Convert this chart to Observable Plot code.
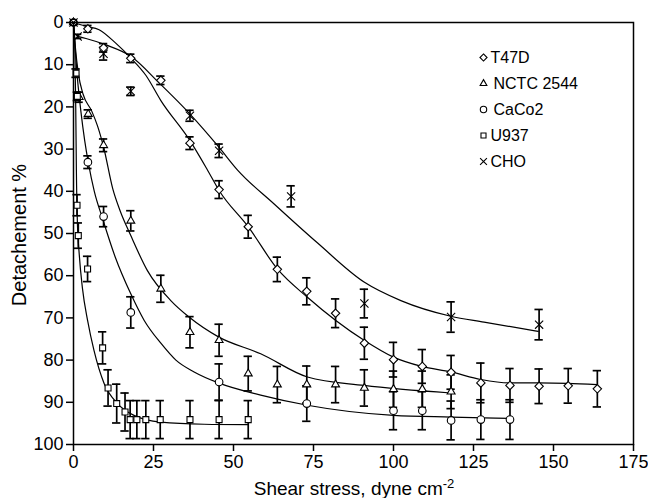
<!DOCTYPE html>
<html><head><meta charset="utf-8">
<script src="https://cdn.jsdelivr.net/npm/d3@7"></script>
<script src="https://cdn.jsdelivr.net/npm/@observablehq/plot@0.6"></script>
<style>body{margin:0;background:#fff;} #chart{width:648px;height:498px;}</style>
</head><body><div id="chart"></div>
<script>
// ---- Data (x: shear stress, y: detachment %, e: error bar half-length) ----
const xTicks = [0, 25, 50, 75, 100, 125, 150, 175];
const yTicks = [0, 10, 20, 30, 40, 50, 60, 70, 80, 90, 100];
const seriesNames = ["T47D", "NCTC 2544", "CaCo2", "U937", "CHO"];

const t47dPts = [[0,0,0],[4.5,1.5,0.8],[9.4,6.0,1],[17.9,8.5,1],[27.3,13.7,1],[36.4,28.6,1.5],[45.5,39.6,2.1],[54.6,48.4,2.7],[63.7,58.5,2.9],[72.9,63.7,3.2],[81.9,68.9,3.4],[90.9,76,3.8],[100,79.9,4.1],[109,81.5,4],[118,82.9,4],[127.3,85.4,4.7],[136.4,86,4],[145.5,86.2,4.1],[154.6,86.1,4.1],[163.7,86.8,4.3]];
const nctcPts = [[0,0,0],[1.75,17.7,1.2],[4.6,21.7,1],[9.4,29.1,1.5],[17.9,47.0,2.4],[27.3,63.1,3.2],[36.4,73.4,3.7],[45.5,75.3,3.8],[54.6,83.2,4.1],[63.7,85.8,4.3],[72.9,85.8,4.4],[81.9,85.8,4.3],[90.9,86.6,4.3],[100,86.9,4.3],[109,86.9,4.3],[118,87.5,4]];
const caco2Pts = [[0,0,0],[4.5,33.1,1.5],[9.4,46.0,2.4],[17.9,68.7,3.7],[45.5,85.2,4.3],[72.9,90.3,4.2],[100,92.0,4.5],[109,92.0,4.5],[118,94.3,4.6],[127.3,94.1,4.7],[136.4,94.1,4.7]];
const u937Pts = [[0,0,0],[0.8,12,1],[1.2,17.5,1],[1.1,43.3,2.5],[1.5,50.5,3],[4.4,58.4,3],[9.1,77.1,3.8],[10.8,86.6,4.3],[13.5,90.3,4.6],[16.1,92.3,4.5],[17.7,94.1,4.5],[19.8,94.1,4.5],[22.6,94.1,4.5],[27.1,94.1,4.5],[36.4,94.1,4.5],[45.5,94.1,4.5],[54.6,94.1,4.5]];
const choPts = [[0,0,0],[1.3,3.3,0.5],[9.4,7.4,1.5],[17.9,16.3,1],[36.4,22.1,1.3],[45.5,30.4,1.6],[68,41.2,2.5],[90.9,66.6,3.4],[118,69.8,3.6],[145.5,71.6,3.6]];

// fitted curves
const t47dFit = [[0,0],[3.9,0.9],[8,1.7],[13.2,4.9],[17.9,8.4],[22.6,12.5],[27.3,18.5],[36.4,28],[41.9,35],[45.5,39.8],[54.7,48.5],[63.7,58.4],[73.1,65.1],[90.8,75.3],[100,79.3],[108.8,81.5],[117.9,82.8],[127.3,84.6],[136.1,85.4],[145.2,85.4],[154.4,85.5],[163.7,85.8]];
const nctcFit = [[0,0],[0.6,6],[1.5,12],[3,17],[5.7,21],[7.5,24.5],[9.4,29.5],[12.3,39.5],[14.5,44.5],[17.9,50.5],[23.1,58.8],[30.4,65.9],[36.1,69.8],[45.3,74.5],[58.5,78.5],[73.1,84],[90.8,86],[117.9,87.8]];
const caco2Fit = [[0,0],[0.5,6],[1.2,13],[2.3,21],[3.5,28],[4.7,33.5],[6.5,40],[9.1,46.5],[13,55.5],[17.9,64.3],[22.1,70.6],[27.3,76.0],[32,80],[37.7,82.8],[45.3,85.4],[58.5,88.3],[73.1,90.7],[100,93.1],[118,93.5],[136.1,93.8]];
const u937Fit = [[0,0],[0.4,5],[0.7,20],[0.9,35],[1.2,47],[1.8,55],[2.8,63],[4.4,70.6],[6.4,77.7],[9.6,85.6],[13.75,90.3],[18.9,93.1],[27.3,94.7],[40.8,95.2],[54.6,95.3]];
const choFit = [[1.3,3.3],[3.9,3.8],[10.1,5.3],[17.9,8.0],[27,14.5],[36.4,21.7],[45.5,29.6],[51.2,34.9],[62.7,43.0],[76.2,52.2],[90.8,61.5],[102.3,65.9],[117.9,69.6],[128.3,71],[145.2,73.2]];

const symbols = ["diamond2", "triangle2", "circle", "square2", "times"];
const allPts = [t47dPts, nctcPts, caco2Pts, u937Pts, choPts];
const allFits = [t47dFit, nctcFit, caco2Fit, u937Fit, choFit];

const series = seriesNames.map((name, i) => ({
  name, symbol: symbols[i],
  pts: allPts[i].map(([x, y, e]) => ({x, y, e})),
  fit: allFits[i].map(([x, y]) => ({x, y}))
}));

const capHalf = 1.3; // data units
const marks = [];
for (const s of series) {
  marks.push(Plot.line(s.fit, {x: "x", y: "y", curve: "monotone-x", stroke: "black", strokeWidth: 1.2}));
}
for (const s of series) {
  const eb = s.pts.filter(d => d.e > 0);
  marks.push(Plot.ruleX(eb, {x: "x", y1: d => d.y - d.e, y2: d => d.y + d.e, stroke: "black", strokeWidth: 1.7}));
  marks.push(Plot.ruleY(eb, {y: d => d.y - d.e, x1: d => d.x - capHalf, x2: d => d.x + capHalf, stroke: "black", strokeWidth: 1.7}));
  marks.push(Plot.ruleY(eb, {y: d => d.y + d.e, x1: d => d.x - capHalf, x2: d => d.x + capHalf, stroke: "black", strokeWidth: 1.7}));
}
for (const s of series) {
  marks.push(Plot.dot(s.pts, {x: "x", y: "y", symbol: s.symbol, r: 3.8, stroke: "black", fill: "white", strokeWidth: 1.1}));
}
// legend (inside the frame, top right)
series.forEach((s, i) => {
  marks.push(Plot.dot([s.name], {frameAnchor: "top-left", dx: 410, dy: 35 + i * 26, symbol: s.symbol, r: 3.2, stroke: "black", fill: "white", strokeWidth: 1.1}));
  marks.push(Plot.text([s.name], {frameAnchor: "top-left", dx: (i === 1 || i === 2) ? 420 : 417, dy: 35 + i * 26, text: d => d, textAnchor: "start", lineAnchor: "middle", fontSize: 16, fill: "black"}));
});
marks.push(Plot.axisX({ticks: xTicks, tickSize: 7, tickPadding: 4, strokeWidth: 1.5, fontSize: 18, label: null}));
marks.push(Plot.axisY({ticks: yTicks, tickSize: 7, tickPadding: 3, strokeWidth: 1.5, fontSize: 18, label: null}));
marks.push(Plot.frame({stroke: "black", strokeWidth: 1.5}));

const plot = Plot.plot({
  width: 648, height: 498,
  marginLeft: 73, marginRight: 15, marginTop: 22, marginBottom: 54,
  style: {fontFamily: "'Liberation Sans', Arial, sans-serif", color: "#000", background: "#fff", overflow: "visible"},
  x: {domain: [0, 175]},
  y: {domain: [0, 100], reverse: true},
  marks
});
document.getElementById("chart").appendChild(plot);

// axis titles
const svg = d3.select(plot);
svg.append("text")
  .attr("transform", "translate(21,235) rotate(-90)")
  .attr("text-anchor", "middle").attr("dominant-baseline", "middle")
  .attr("font-size", 20).attr("fill", "black")
  .text("Detachement %");
const xt = svg.append("text")
  .attr("x", 354).attr("y", 495)
  .attr("text-anchor", "middle")
  .attr("font-size", 19).attr("fill", "black");
xt.append("tspan").text("Shear stress, dyne cm");
xt.append("tspan").attr("dy", -7).attr("font-size", 13).text("-2");
</script></body></html>
